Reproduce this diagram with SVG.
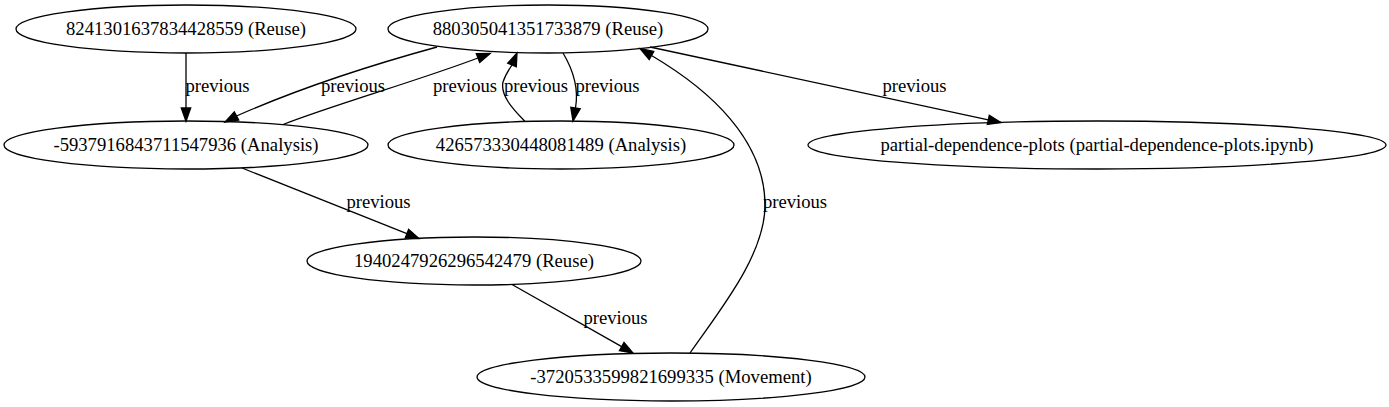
<svg xmlns="http://www.w3.org/2000/svg" width="1389" height="407" viewBox="0 0 1389 407">
<style>
  .node ellipse { fill: none; stroke: #000; stroke-width: 1.3; }
  text { font-family: "Liberation Serif", "Times New Roman", serif; font-size: 18.67px; fill: #000; text-anchor: middle; }
  .edge path { fill: none; stroke: #000; stroke-width: 1.3; }
  .edge polygon { fill: #000; stroke: #000; stroke-width: 1.3; }
</style>
<rect width="1389" height="407" fill="#fff"/>
<g id="connectors">
  <g class="edge" id="e_A_C">
    <path d="M186,53 L186,108"/>
    <polygon points="181.3,108 186,121.3 190.7,108"/>
    <text x="217.5" y="92">previous</text>
  </g>
  <g class="edge" id="e_B_C">
    <path d="M437,47 C375,64 300,88 236.5,116"/>
    <polygon points="238.7,120.1 225,122 234.3,111.9"/>
    <text x="353" y="92">previous</text>
  </g>
  <g class="edge" id="e_C_B">
    <path d="M283,124.5 C330,106 420,80 478,58"/>
    <polygon points="479.7,62.4 490.2,53.4 476.3,53.6"/>
    <text x="465" y="92">previous</text>
  </g>
  <g class="edge" id="e_D_B">
    <path d="M525,121.5 C514,110 500,96 503,82 C505,76 508,71 512,65"/>
    <polygon points="507.7,63.2 517,53 516.3,66.8"/>
    <text x="536" y="92">previous</text>
  </g>
  <g class="edge" id="e_B_D">
    <path d="M563,53 C572,68 579,88 575.5,108"/>
    <polygon points="570.8,107.3 573,121 580.2,108.7"/>
    <text x="607.5" y="92">previous</text>
  </g>
  <g class="edge" id="e_B_E">
    <path d="M650,47 L988.3,119.8"/>
    <polygon points="987.3,124.4 1001,122.5 989.3,115.2"/>
    <text x="914.5" y="92">previous</text>
  </g>
  <g class="edge" id="e_C_F">
    <path d="M242,168 L406.9,233.7"/>
    <polygon points="405.2,238.1 419,238.5 408.6,229.3"/>
    <text x="378.5" y="208">previous</text>
  </g>
  <g class="edge" id="e_F_G">
    <path d="M512,284.5 L621.7,346.6"/>
    <polygon points="619.4,350.7 633,353 624,342.5"/>
    <text x="615.5" y="324">previous</text>
  </g>
  <g class="edge" id="e_G_B">
    <path d="M690,353 C720,310 765,255 765,205 C765,140 710,90 651.5,55.5"/>
    <polygon points="649.2,59.6 640,48.6 653.8,51.4"/>
    <text x="795" y="208">previous</text>
  </g>
</g>
<g class="node" id="n_8241301637834428559">
  <ellipse cx="186" cy="29" rx="170" ry="24"/>
  <text x="186" y="35">8241301637834428559 (Reuse)</text>
</g>
<g class="node" id="n_880305041351733879">
  <ellipse cx="548" cy="29" rx="160" ry="24"/>
  <text x="548" y="35">880305041351733879 (Reuse)</text>
</g>
<g class="node" id="n_-5937916843711547936">
  <ellipse cx="186" cy="145" rx="182" ry="24"/>
  <text x="186" y="151">-5937916843711547936 (Analysis)</text>
</g>
<g class="node" id="n_426573330448081489">
  <ellipse cx="561" cy="145" rx="173" ry="24"/>
  <text x="561" y="151">426573330448081489 (Analysis)</text>
</g>
<g class="node" id="n_partial-dependence-plots">
  <ellipse cx="1097" cy="145" rx="289" ry="24"/>
  <text x="1097" y="151">partial-dependence-plots (partial-dependence-plots.ipynb)</text>
</g>
<g class="node" id="n_1940247926296542479">
  <ellipse cx="474" cy="261" rx="167" ry="24"/>
  <text x="474" y="267">1940247926296542479 (Reuse)</text>
</g>
<g class="node" id="n_-3720533599821699335">
  <ellipse cx="671" cy="377" rx="194" ry="24"/>
  <text x="671" y="383">-3720533599821699335 (Movement)</text>
</g>
</svg>
